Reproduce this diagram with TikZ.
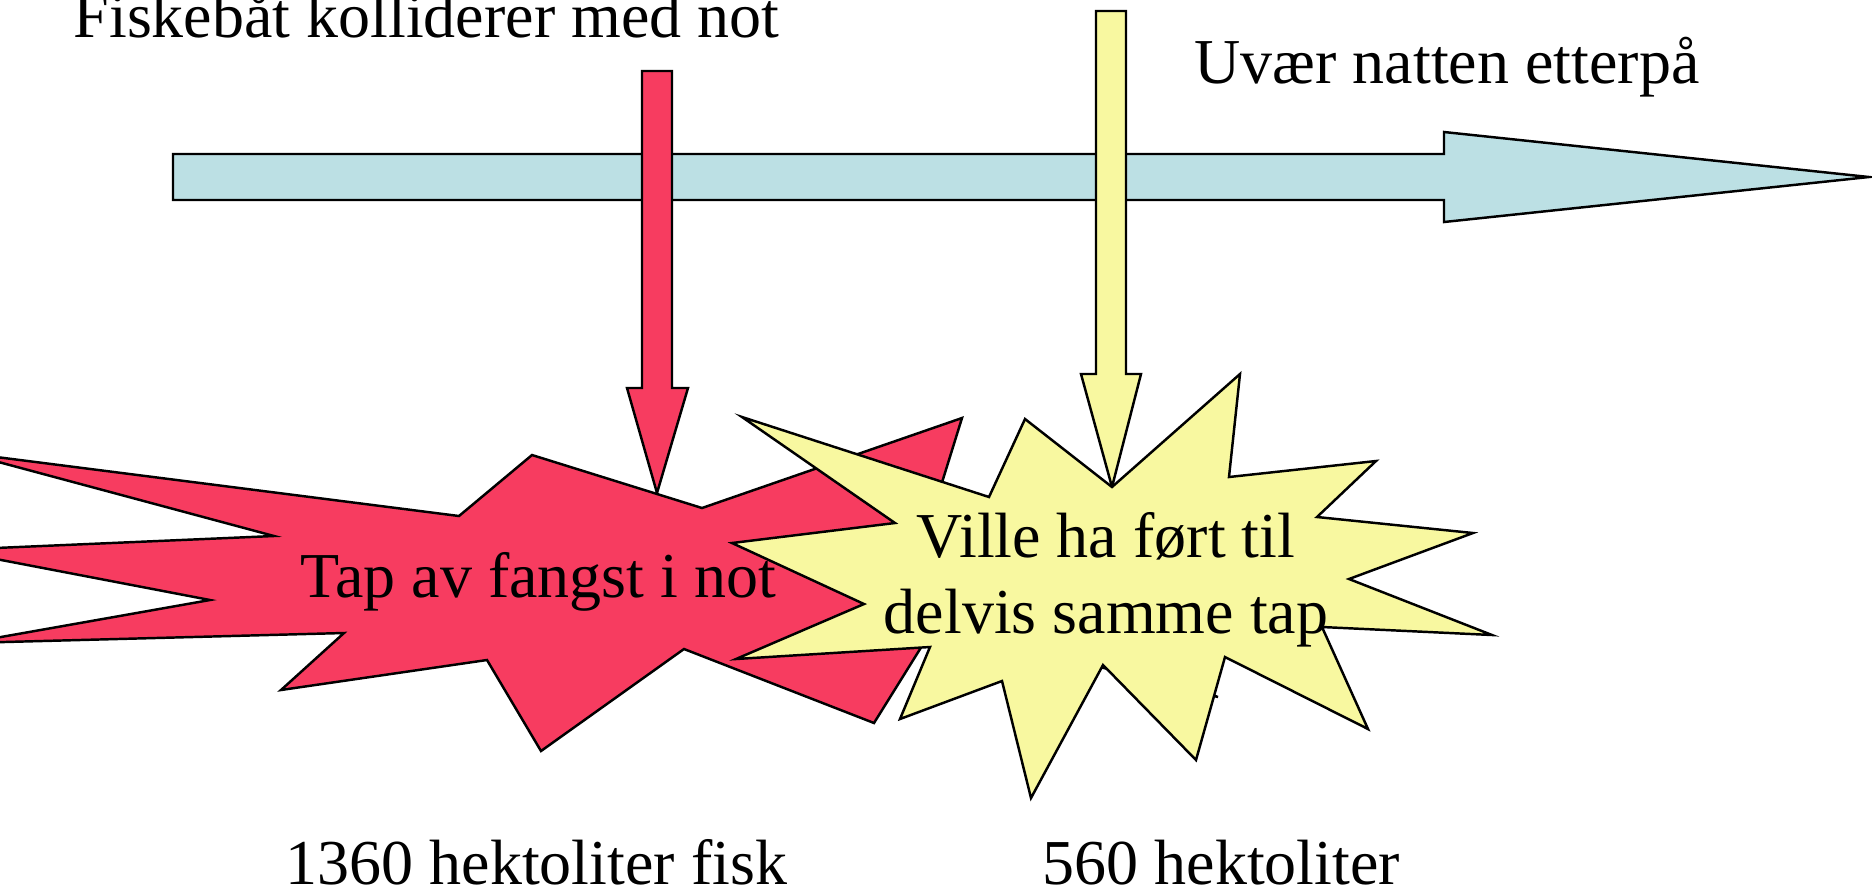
\documentclass[tikz,border=0pt]{standalone}
\usepackage{fontspec}
\setmainfont{Liberation Serif}
\definecolor{tidsblaa}{RGB}{188,224,228}
\definecolor{rodfarge}{RGB}{247,60,96}
\definecolor{gulfarge}{RGB}{248,248,160}
\begin{document}
\begin{tikzpicture}[x=0.01cm,y=-0.01cm,line join=miter,
	kant/.style={draw=black,line width=0.7pt},
	tekst/.style={inner sep=0,font=\fontsize{18.2}{21.6}\selectfont}]
	\useasboundingbox (0,0) rectangle (1872,890);
	%Tidslinje
	\draw[kant,fill=tidsblaa] (173,154)--(1444,154)--(1444,132)--(1869,177)--(1444,222)--(1444,200)--(173,200)--cycle;
	%Pil 1
	\draw[kant,fill=rodfarge] (642,71)--(672,71)--(672,388)--(688,388)--(657,493)--(627,388)--(642,388)--cycle;
	%Pil 2
	\draw[kant,fill=gulfarge] (1096,11)--(1126,11)--(1126,374)--(1141,374)--(1112,487)--(1081,374)--(1096,374)--cycle;
	%Eksplosjon 1
	\draw[kant,fill=rodfarge] (-35,453)--(459,516)--(532,455)--(702,508)--(962,418)--(935,505)--(1150,520)--(960,600)--(1218,697)--(935,625)--(874,723)--(684,649)--(541,751)--(487,660)--(281,690)--(344,633)--(-33,643)--(210,600)--(-51,550)--(274,536)--cycle;
	\node[tekst,anchor=base west] (tap1) at (300,597) {Tap av fangst i not};
	%Eksplosjon 2
	\draw[kant,fill=gulfarge] (742,417)--(989,497)--(1025,419)--(1112,487)--(1240,374)--(1229,477)--(1376,461)--(1317,517)--(1473,533)--(1349,579)--(1492,635)--(1322,627)--(1368,729)--(1225,657)--(1196,760)--(1103,665)--(1031,798)--(1002,681)--(900,719)--(930,647)--(736,659)--(864,604)--(732,543)--(895,523)--cycle;
	\node[tekst,anchor=base,align=center] (tap2) at (1106,633) {Ville ha ført til\\delvis samme tap};
	%Tekst
	\node[tekst,anchor=base west] (hendelse1) at (73,37) {Fiskebåt kolliderer med not};
	\node[tekst,anchor=base west] (hendelse2) at (1194,83) {Uvær natten etterpå};
	\node[tekst,anchor=base west] (mengde1) at (285,884) {1360 hektoliter fisk};
	\node[tekst,anchor=base west] (mengde2) at (1042,884) {560 hektoliter};
\end{tikzpicture}
\end{document}
